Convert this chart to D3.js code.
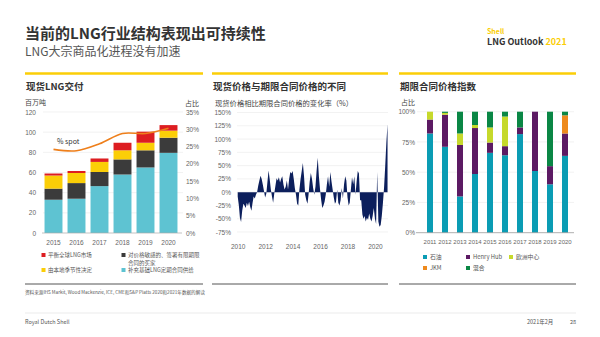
<!DOCTYPE html>
<html>
<head>
<meta charset="utf-8">
<script src="https://cdn.jsdelivr.net/npm/d3@7"></script>
<style>
  body { margin: 0; background: #fff; }
  svg { display: block; font-family: "Noto Sans CJK SC", "Noto Sans", sans-serif; }
  .tick text { fill: #666; }
</style>
</head>
<body>
<svg id="chart" width="600" height="337"></svg>
<script>
// ---- spot LNG deliveries (Mt) ----
var deliveryYears = ["2015", "2016", "2017", "2018", "2019", "2020"];
var baseSupply     = [33, 34, 46.5, 58, 65, 79.5];
var priceSensitive = [11, 15.5, 14, 15, 17, 15];
var seasonal       = [13, 10, 10, 9, 7.5, 7];
var balancing      = [2, 2, 3.4, 7.5, 11, 5.5];
var spotShare      = [24.2, 23.8, 25.8, 28.8, 28.8, 30.3];

// ---- spot vs term price difference (%), monthly from Jan 2010 ----
var spotDiff = [
  -8, -25, -48, -56, -35, -22, -25, -30, -20, -26, -18, -28,   // 2010
  -35, -20, -8, -12, -5, 0, 12, 22, 31, 25, 14, 2,             // 2011
  -10, -3, 18, 41, 25, 5, -8, -20, -2, 12, 26, 22,             // 2012
  28, 18, 25, 30, 15, 5, 10, 22, 5, 25, 38, 35,                // 2013
  40, 25, 8, -5, -22, -25, 5, 25, 40, 55, 30, -5,              // 2014
  -15, -22, -5, 20, 36, 25, 8, -5, 10, 40, 65, 30,             // 2015
  5, -15, -30, -25, -18, -5, 15, 30, 10, 38, 20, 5,            // 2016
  -10, -22, -18, 5, -20, -25, -15, 8, -12, 15, 30, 22,         // 2017
  -10, -25, -20, 5, 28, 15, 30, -5, 20, 40, 35, -15,           // 2018
  -15, -42, -50, -45, -55, -48, -52, -40, -50, -55, -45, -30,  // 2019
  -50, -60, 38, -55, -65, -62, -45, -20, 10, 50, 95, 128       // 2020
];
var diffTicks = [-75, -50, -25, 0, 25, 50, 75, 100, 125, 150];
var diffYearTicks = [2010, 2012, 2014, 2016, 2018, 2020];

// ---- term contract price index share (%) ----
var contractYears = ["2011", "2012", "2013", "2014", "2015", "2016", "2017", "2018", "2019", "2020"];
var oil      = [82, 71, 30, 48.5, 66, 64, 81.5, 51, 40, 63.5];
var henryHub = [11.5, 26.5, 42.5, 38, 8.5, 7.5, 5.5, 49, 15, 18.5];
var euroHub  = [6.5, 1.5, 9.5, 2.5, 12.5, 24.5, 0, 0, 0, 0];
var jkm      = [0, 0, 0, 0, 0, 0, 0, 0, 0, 15];
var mixed    = [0, 1, 18, 11, 13, 4, 13, 0, 45, 3];

var svg = d3.select("#chart");
var YELLOW = "#fbce07";

// header
svg.append("text").attr("x", 25).attr("y", 39).attr("font-size", 15).attr("font-weight", "bold")
  .attr("fill", "#333").text("当前的LNG行业结构表现出可持续性");
svg.append("text").attr("x", 25).attr("y", 56).attr("font-size", 12).attr("fill", "#555")
  .text("LNG大宗商品化进程没有加速");
svg.append("text").attr("x", 487).attr("y", 34).attr("font-size", 7).attr("font-weight", "bold")
  .attr("fill", YELLOW).text("Shell");
var logo = svg.append("text").attr("x", 487).attr("y", 45).attr("font-size", 9).attr("font-weight", "bold")
  .attr("fill", "#333");
logo.append("tspan").text("LNG Outlook ");
logo.append("tspan").attr("fill", YELLOW).text("2021");

// panel frames
var panels = [[25, 203, "现货LNG交付"], [212, 388, "现货价格与期限合同价格的不同"], [399, 576, "期限合同价格指数"]];
panels.forEach(function(p) {
  svg.append("line").attr("x1", p[0]).attr("x2", p[1]).attr("y1", 73.5).attr("y2", 73.5)
    .attr("stroke", YELLOW).attr("stroke-width", 2.5);
  svg.append("line").attr("x1", p[0]).attr("x2", p[1]).attr("y1", 284).attr("y2", 284)
    .attr("stroke", "#555").attr("stroke-width", 1);
  svg.append("text").attr("x", p[0] + 1).attr("y", 90).attr("font-size", 9.5).attr("font-weight", "bold")
    .attr("fill", "#333").text(p[2]);
});

// ================= left: spot deliveries =================
var xL = d3.scaleBand().domain(deliveryYears).range([42, 180]).paddingInner(0.22).paddingOuter(0.11);
var yL = d3.scaleLinear().domain([0, 120]).range([233, 112]);
var yP = d3.scaleLinear().domain([0, 35]).range([233, 112]);

svg.append("text").attr("x", 25).attr("y", 105).attr("font-size", 7).attr("fill", "#444").text("百万吨");
svg.append("text").attr("x", 185).attr("y", 106).attr("font-size", 7).attr("fill", "#444").text("占比");

svg.append("g").selectAll("line").data(d3.range(20, 121, 20)).join("line")
  .attr("x1", 43).attr("x2", 183).attr("y1", yL).attr("y2", yL)
  .attr("stroke", "#ececec").attr("stroke-width", 0.7);

var gLy = svg.append("g").attr("transform", "translate(36,0)")
  .call(d3.axisLeft(yL).tickValues(d3.range(0, 121, 20)).tickSize(0).tickPadding(0));
gLy.select(".domain").remove();
gLy.selectAll("text").attr("font-size", 6.5).attr("font-family", null);

var gPy = svg.append("g").attr("transform", "translate(186,0)")
  .call(d3.axisRight(yP).tickValues(d3.range(0, 36, 5)).tickSize(0).tickPadding(0)
    .tickFormat(function(d) { return d + "%"; }));
gPy.select(".domain").remove();
gPy.selectAll("text").attr("font-size", 6.5).attr("font-family", null);

var deliveryRows = deliveryYears.map(function(y, i) {
  return { year: y, base: baseSupply[i], sens: priceSensitive[i], seas: seasonal[i], bal: balancing[i] };
});
var deliveryKeys = ["base", "sens", "seas", "bal"];
var deliveryColors = { base: "#5ec3d2", sens: "#3b3b3b", seas: YELLOW, bal: "#dd1d21" };
var stackL = d3.stack().keys(deliveryKeys)(deliveryRows);

svg.append("g").selectAll("g").data(stackL).join("g")
  .attr("fill", function(s) { return deliveryColors[s.key]; })
  .selectAll("rect").data(function(s) { return s; }).join("rect")
  .attr("x", function(d) { return xL(d.data.year); })
  .attr("width", xL.bandwidth())
  .attr("y", function(d) { return yL(d[1]); })
  .attr("height", function(d) { return yL(d[0]) - yL(d[1]); });

svg.append("line").attr("x1", 42).attr("x2", 182).attr("y1", yL(0)).attr("y2", yL(0))
  .attr("stroke", "#aaa").attr("stroke-width", 0.7);

var spotLine = d3.line()
  .x(function(d, i) { return xL(deliveryYears[i]) + xL.bandwidth() / 2; })
  .y(function(d) { return yP(d); })
  .curve(d3.curveCatmullRom);
svg.append("path").datum(spotShare).attr("d", spotLine)
  .attr("fill", "none").attr("stroke", "#ee7f1b").attr("stroke-width", 1.6);
svg.append("text").attr("x", 57).attr("y", 144).attr("font-size", 7).attr("fill", "#333").text("% spot");

var gLx = svg.append("g").attr("transform", "translate(0,240)")
  .call(d3.axisBottom(xL).tickSize(0).tickPadding(0));
gLx.select(".domain").remove();
gLx.selectAll("text").attr("font-size", 6.5).attr("font-family", null);

var legL = [
  { c: "#dd1d21", x: 41.5, y: 253, t: ["平衡全球LNG市场"] },
  { c: "#3b3b3b", x: 121.5, y: 253, t: ["对价格敏感的、签署有限期限", "合同的买家"] },
  { c: YELLOW, x: 41.5, y: 268, t: ["由本地季节性决定"] },
  { c: "#5ec3d2", x: 121.5, y: 268, t: ["补充基础LNG定期合同供给"] }
];
legL.forEach(function(l) {
  svg.append("rect").attr("x", l.x).attr("y", l.y).attr("width", 4).attr("height", 4).attr("fill", l.c);
  var t = svg.append("text").attr("x", l.x + 6.5).attr("y", l.y + 4).attr("font-size", 5.5).attr("fill", "#555");
  l.t.forEach(function(s, k) {
    t.append("tspan").attr("x", l.x + 6.5).attr("dy", k ? 7.5 : 0).text(s);
  });
});

// ================= middle: spot vs term =================
var xM = d3.scaleTime().domain([new Date(2010, 0, 1), new Date(2021, 0, 1)]).range([237.7, 388.7]);
var yM = d3.scaleLinear().domain([-75, 150]).range([232, 112.5]);

svg.append("text").attr("x", 215).attr("y", 106).attr("font-size", 7.3).attr("fill", "#444")
  .text("现货价格相比期限合同价格的变化率（%）");

svg.append("g").selectAll("line").data(diffTicks).join("line")
  .attr("x1", 237).attr("x2", 388).attr("y1", yM).attr("y2", yM)
  .attr("stroke", "#ececec").attr("stroke-width", 0.7);

var gMy = svg.append("g").attr("transform", "translate(231,0)")
  .call(d3.axisLeft(yM).tickValues(diffTicks).tickSize(0).tickPadding(0)
    .tickFormat(function(d) { return d + "%"; }));
gMy.select(".domain").remove();
gMy.selectAll("text").attr("font-size", 6.5).attr("font-family", null);

var diffArea = d3.area()
  .x(function(d, i) { return xM(new Date(2010, i, 1)); })
  .y0(yM(0))
  .y1(function(d) { return yM(d); });
svg.append("path").datum(spotDiff).attr("d", diffArea).attr("fill", "#0c1f5c");

var gMx = svg.append("g").attr("transform", "translate(0,244)")
  .call(d3.axisBottom(xM).tickValues(diffYearTicks.map(function(y) { return new Date(y, 0, 1); }))
    .tickSize(0).tickPadding(0).tickFormat(d3.timeFormat("%Y")));
gMx.select(".domain").remove();
gMx.selectAll("text").attr("font-size", 6.5).attr("font-family", null);

// ================= right: contract price index =================
var xC = d3.scaleBand().domain(contractYears).range([422.5, 572.5]).paddingInner(0.6).paddingOuter(0.3);
var yC = d3.scaleLinear().domain([0, 100]).range([232.7, 111.7]);

svg.append("text").attr("x", 401).attr("y", 105).attr("font-size", 7).attr("fill", "#444").text("占比");

svg.append("g").selectAll("line").data([25, 50, 75, 100]).join("line")
  .attr("x1", 417).attr("x2", 574).attr("y1", yC).attr("y2", yC)
  .attr("stroke", "#ececec").attr("stroke-width", 0.7);

var gCy = svg.append("g").attr("transform", "translate(415,0)")
  .call(d3.axisLeft(yC).tickValues([0, 25, 50, 75, 100]).tickSize(0).tickPadding(0)
    .tickFormat(function(d) { return d + "%"; }));
gCy.select(".domain").remove();
gCy.selectAll("text").attr("font-size", 6.5).attr("font-family", null);

var contractRows = contractYears.map(function(y, i) {
  return { year: y, oil: oil[i], hh: henryHub[i], eu: euroHub[i], jkm: jkm[i], mix: mixed[i] };
});
var contractKeys = ["oil", "hh", "eu", "jkm", "mix"];
var contractColors = { oil: "#0a9cb4", hh: "#5c1a63", eu: "#c6d92b", jkm: "#ee8a1d", mix: "#0a8745" };
var stackC = d3.stack().keys(contractKeys)(contractRows);

svg.append("g").selectAll("g").data(stackC).join("g")
  .attr("fill", function(s) { return contractColors[s.key]; })
  .selectAll("rect").data(function(s) { return s; }).join("rect")
  .attr("x", function(d) { return xC(d.data.year); })
  .attr("width", xC.bandwidth())
  .attr("y", function(d) { return yC(d[1]); })
  .attr("height", function(d) { return yC(d[0]) - yC(d[1]); });

svg.append("line").attr("x1", 416).attr("x2", 574).attr("y1", yC(0)).attr("y2", yC(0))
  .attr("stroke", "#999").attr("stroke-width", 0.8);

var gCx = svg.append("g").attr("transform", "translate(0,240)")
  .call(d3.axisBottom(xC).tickSize(0).tickPadding(0));
gCx.select(".domain").remove();
gCx.selectAll("text").attr("font-size", 6).attr("font-family", null);

var legC = [
  { c: contractColors.oil, x: 423, y: 255, t: "石油" },
  { c: contractColors.hh, x: 466, y: 255, t: "Henry Hub" },
  { c: contractColors.eu, x: 509, y: 255, t: "欧洲中心" },
  { c: contractColors.jkm, x: 423, y: 266, t: "JKM" },
  { c: contractColors.mix, x: 466, y: 266, t: "混合" }
];
legC.forEach(function(l) {
  svg.append("rect").attr("x", l.x).attr("y", l.y).attr("width", 4).attr("height", 4).attr("fill", l.c);
  svg.append("text").attr("x", l.x + 7).attr("y", l.y + 4).attr("font-size", 5.8).attr("fill", "#555").text(l.t);
});

// footer
svg.append("text").attr("x", 25).attr("y", 294).attr("font-size", 4.6).attr("fill", "#555")
  .text("资料来源IHS Markit, Wood Mackenzie, ICE, CME和S&P Platts 2020和2021年数据的解读");
svg.append("line").attr("x1", 25).attr("x2", 576).attr("y1", 313).attr("y2", 313)
  .attr("stroke", "#ddd").attr("stroke-width", 0.6);
svg.append("text").attr("x", 25).attr("y", 324).attr("font-size", 5.5).attr("fill", "#555").text("Royal Dutch Shell");
svg.append("text").attr("x", 527).attr("y", 324).attr("font-size", 5.5).attr("fill", "#555").text("2021年2月");
svg.append("text").attr("x", 576).attr("y", 324).attr("font-size", 5.5).attr("fill", "#555")
  .attr("text-anchor", "end").text("28");
</script>
</body>
</html>
